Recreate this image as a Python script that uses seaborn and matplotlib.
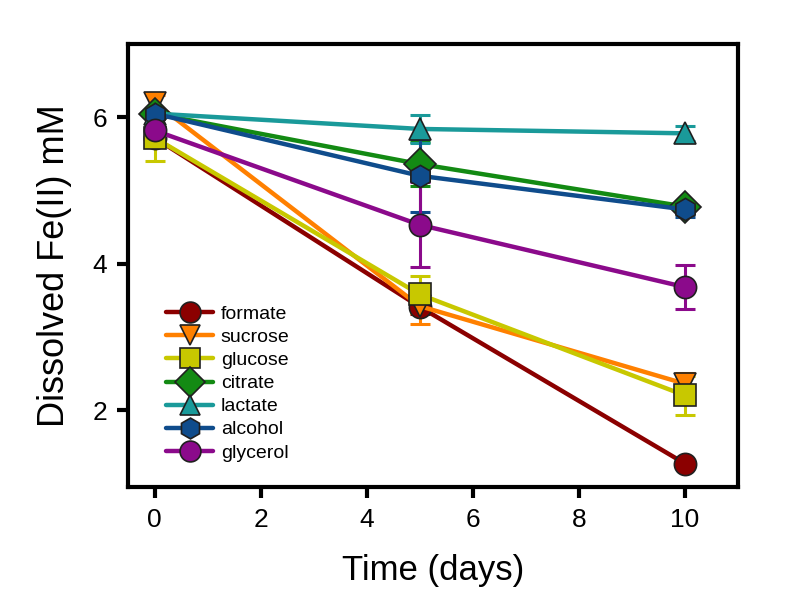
import matplotlib
matplotlib.use("Agg")
import matplotlib.pyplot as plt
import seaborn as sns
import pandas as pd

days = [0, 5, 10]
series = ["formate", "sucrose", "glucose", "citrate", "lactate", "alcohol", "glycerol"]
formate = [5.72, 3.41, 1.27]
sucrose = [6.20, 3.42, 2.36]
glucose = [5.72, 3.58, 2.20]
citrate = [6.05, 5.36, 4.78]
lactate = [6.05, 5.84, 5.78]
alcohol = [6.05, 5.20, 4.74]
glycerol = [5.82, 4.53, 3.68]
formate_err = [0.05, 0.10, 0.05]
sucrose_err = [0.10, 0.25, 0.15]
glucose_err = [0.32, 0.25, 0.26]
citrate_err = [0.05, 0.30, 0.05]
lactate_err = [0.05, 0.19, 0.10]
alcohol_err = [0.05, 0.50, 0.10]
glycerol_err = [0.05, 0.58, 0.30]

values = [formate, sucrose, glucose, citrate, lactate, alcohol, glycerol]
errors = [formate_err, sucrose_err, glucose_err, citrate_err, lactate_err, alcohol_err, glycerol_err]
colors = ["#8B0000", "#FF8000", "#C8C800", "#138A13", "#1A9A9A", "#0F4C8C", "#8B0A8B"]
markers = ["o", "v", "s", "D", "^", "h", "o"]

rows = []
for name, vals, errs in zip(series, values, errors):
    for d, v, e in zip(days, vals, errs):
        rows.append({"Time": d, "Fe": v, "err": e, "series": name})
df = pd.DataFrame(rows)

sns.set_theme(style="white")
plt.rcParams["font.family"] = ["Liberation Sans", "DejaVu Sans"]
plt.rcParams["text.color"] = "black"
plt.rcParams["axes.labelcolor"] = "black"

fig = plt.figure(figsize=(8.1, 6.03), dpi=100)
ax = fig.add_axes([128 / 810, 1 - 487 / 603, 610 / 810, 443 / 603])

palette = dict(zip(series, colors))
for name, c in zip(series, colors):
    sub = df[df.series == name]
    ax.errorbar(sub.Time, sub.Fe, yerr=sub.err, fmt="none", ecolor=c,
                elinewidth=2.2, capsize=7, capthick=2.2, zorder=2)

sns.lineplot(data=df, x="Time", y="Fe", hue="series", style="series",
             hue_order=series, style_order=series, palette=palette,
             markers=dict(zip(series, markers)), dashes=False,
             markersize=16, markeredgecolor="#202020", markeredgewidth=1.2,
             linewidth=3.2, ax=ax, zorder=3)

ax.set_xlim(-0.5, 11)
ax.set_ylim(0.95, 7.0)
ax.set_xticks([0, 2, 4, 6, 8, 10])
ax.set_yticks([2, 4, 6])
ax.set_xlabel("Time (days)", fontsize=25, labelpad=16)
ax.set_ylabel("Dissolved Fe(II) mM", fontsize=26, labelpad=15)
ax.tick_params(axis="both", direction="out", length=8, width=3,
               labelsize=19, bottom=True, left=True, colors="black", pad=7)
for s in ax.spines.values():
    s.set_linewidth(3)
    s.set_color("black")

leg = ax.legend(loc="lower left", bbox_to_anchor=(0.05, 0.04), frameon=False,
                fontsize=14, handlelength=2.4, labelspacing=0.28,
                handletextpad=0.4, borderaxespad=0)
for h in leg.legend_handles:
    h.set_markersize(15)
    h.set_linewidth(3.2)

fig.savefig("out.png", dpi=100, facecolor="white")
